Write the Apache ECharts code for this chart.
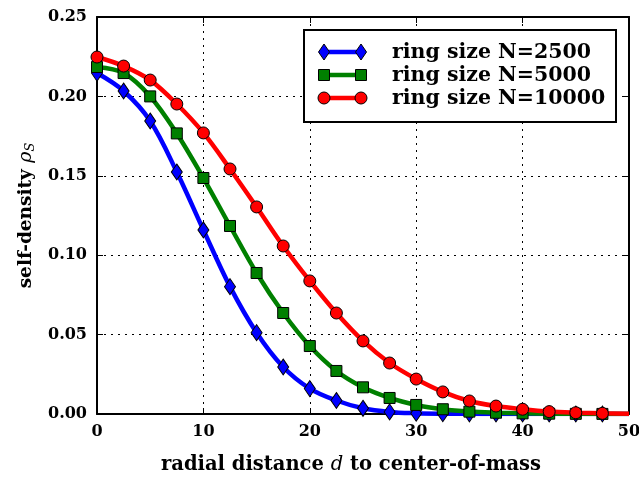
<!DOCTYPE html>
<html>
<head>
<meta charset="utf-8">
<script src="https://cdn.jsdelivr.net/npm/echarts@6/dist/echarts.min.js"></script>
<style>
  html, body { margin: 0; padding: 0; background: #fff; }
  #chart { width: 639px; height: 477px; }
</style>
</head>
<body>
<div id="chart"></div>
<script>
// Radial distance d (sampling points shared by all three curves)
const distances = [0, 2.5, 5, 7.5, 10, 12.5, 15, 17.5, 20, 22.5, 25, 27.5, 30, 32.5, 35, 37.5, 40, 42.5, 45, 47.5];

// Self-density rho_S for each ring size
const densityN2500 = [0.2147, 0.2034, 0.1845, 0.1524, 0.1159, 0.0802, 0.0512, 0.0296, 0.0160, 0.0085, 0.0036, 0.0013, 0.0005, 0.0002, 0.0001, 0.00005, 0.00003, 0.00002, 0.00001, 0.00001];
const densityN5000 = [0.2185, 0.2147, 0.2000, 0.1767, 0.1486, 0.1184, 0.0888, 0.0636, 0.0428, 0.0271, 0.0168, 0.0101, 0.0057, 0.0030, 0.0015, 0.0008, 0.0004, 0.0002, 0.0001, 0.00005];
const densityN10000 = [0.2248, 0.2191, 0.2103, 0.1952, 0.1770, 0.1543, 0.1304, 0.1058, 0.0838, 0.0636, 0.0460, 0.0321, 0.0220, 0.0139, 0.0082, 0.0050, 0.0030, 0.0015, 0.0008, 0.0004];

// Curve tail at the right edge (drawn as line only)
const tailDistance = 50;
const tailN2500 = 0.0;
const tailN5000 = 0.00003;
const tailN10000 = 0.0002;

const seriesNames = ['ring size N=2500', 'ring size N=5000', 'ring size N=10000'];
const seriesColors = ['#0000ff', '#008000', '#ff0000'];

const xTicks = [0, 10, 20, 30, 40, 50];
const yTicks = [0.00, 0.05, 0.10, 0.15, 0.20, 0.25];

const FONT = 'DejaVu Serif';

function buildData(values, tail) {
  const pts = distances.map((d, i) => [d, values[i]]);
  pts.push({ value: [tailDistance, tail], symbol: 'none' });
  return pts;
}

const symbols = ['diamond', 'rect', 'circle'];
const symbolSizes = [[11, 16], 11, 12];
const allValues = [densityN2500, densityN5000, densityN10000];
const tails = [tailN2500, tailN5000, tailN10000];

const series = seriesNames.map((name, k) => ({
  name: name,
  type: 'line',
  smooth: 0.35,
  data: buildData(allValues[k], tails[k]),
  symbol: symbols[k],
  symbolSize: symbolSizes[k],
  showAllSymbol: true,
  clip: true,
  lineStyle: { color: seriesColors[k], width: 4.5 },
  itemStyle: { color: seriesColors[k], borderColor: '#000', borderWidth: 1 },
  emphasis: { disabled: true },
  z: 2 + k
}));

// Legend drawn as a framed box with line+marker samples
const legendLeft = 304, legendTop = 30, legendW = 312, legendH = 92;
const rowY = [52, 75, 98];
const legendGraphics = [{
  type: 'rect',
  shape: { x: legendLeft, y: legendTop, width: legendW, height: legendH },
  style: { fill: '#fff', stroke: '#000', lineWidth: 2 },
  z: 100
}];
function markerShape(k, cx, cy) {
  const style = { fill: seriesColors[k], stroke: '#000', lineWidth: 1 };
  if (k === 0) {
    return { type: 'polygon', shape: { points: [[cx, cy - 8], [cx + 5.5, cy], [cx, cy + 8], [cx - 5.5, cy]] }, style, z: 102 };
  } else if (k === 1) {
    return { type: 'rect', shape: { x: cx - 5.5, y: cy - 5.5, width: 11, height: 11 }, style, z: 102 };
  }
  return { type: 'circle', shape: { cx: cx, cy: cy, r: 6 }, style, z: 102 };
}
seriesNames.forEach((name, k) => {
  const y = rowY[k];
  legendGraphics.push({
    type: 'line',
    shape: { x1: 324, y1: y, x2: 361, y2: y },
    style: { stroke: seriesColors[k], lineWidth: 4.5 },
    z: 101
  });
  legendGraphics.push(markerShape(k, 324, y));
  legendGraphics.push(markerShape(k, 361, y));
  legendGraphics.push({
    type: 'text',
    x: 392, y: y + 1,
    style: {
      text: name, fill: '#000',
      font: 'bold 20.5px "' + FONT + '"',
      textVerticalAlign: 'middle', verticalAlign: 'middle'
    },
    z: 102
  });
});

const gridLine = { show: true, lineStyle: { color: '#000', width: 1, type: [2, 5] } };
const axisLine = { show: true, onZero: false, lineStyle: { color: '#000', width: 2 } };
const tickStyle = { show: true, inside: true, length: 6, lineStyle: { color: '#000', width: 1 } };
const labelFont = { fontFamily: FONT, fontWeight: 'bold', fontSize: 16, color: '#000' };

const option = {
  backgroundColor: '#fff',
  animation: false,
  grid: { left: 97, right: 10, top: 17, bottom: 63, containLabel: false, outerBoundsMode: 'none' },
  xAxis: [{
    type: 'value', min: 0, max: 50, interval: 10,
    axisLine, axisTick: tickStyle, splitLine: gridLine,
    axisLabel: Object.assign({ margin: 10, formatter: v => xTicks.includes(v) ? String(v) : '' }, labelFont),
    name: '{b|radial distance }{i|d}{b| to center-of-mass}',
    nameLocation: 'middle', nameGap: 41,
    nameTextStyle: {
      padding: [0, 24, 0, 0],
      rich: {
        b: { fontFamily: FONT, fontWeight: 'bold', fontSize: 19.5, color: '#000' },
        i: { fontFamily: FONT, fontStyle: 'italic', fontSize: 19.5, color: '#000' }
      }
    }
  }, {
    type: 'value', position: 'top', min: 0, max: 50, interval: 10,
    axisLine, axisTick: tickStyle, splitLine: { show: false }, axisLabel: { show: false }
  }],
  yAxis: [{
    type: 'value', min: 0, max: 0.25, interval: 0.05,
    axisLine, axisTick: tickStyle, splitLine: gridLine,
    axisLabel: Object.assign({ margin: 10, formatter: v => yTicks.some(t => Math.abs(t - v) < 1e-9) ? v.toFixed(2) : '' }, labelFont),
    name: '{b|self-density }{i|ρ}{s|S}',
    nameLocation: 'middle', nameGap: 60, nameRotate: 90,
    nameTextStyle: {
      rich: {
        b: { fontFamily: FONT, fontWeight: 'bold', fontSize: 18.5, color: '#000' },
        i: { fontFamily: FONT, fontStyle: 'italic', fontSize: 19, color: '#000' },
        s: { fontFamily: FONT, fontStyle: 'italic', fontSize: 13, color: '#000', padding: [8, 0, 0, 0] }
      }
    }
  }, {
    type: 'value', position: 'right', min: 0, max: 0.25, interval: 0.05,
    axisLine, axisTick: tickStyle, splitLine: { show: false }, axisLabel: { show: false }
  }],
  series: series,
  graphic: legendGraphics
};

const chart = echarts.init(document.getElementById('chart'), null, { renderer: 'canvas' });
chart.setOption(option);
</script>
</body>
</html>
